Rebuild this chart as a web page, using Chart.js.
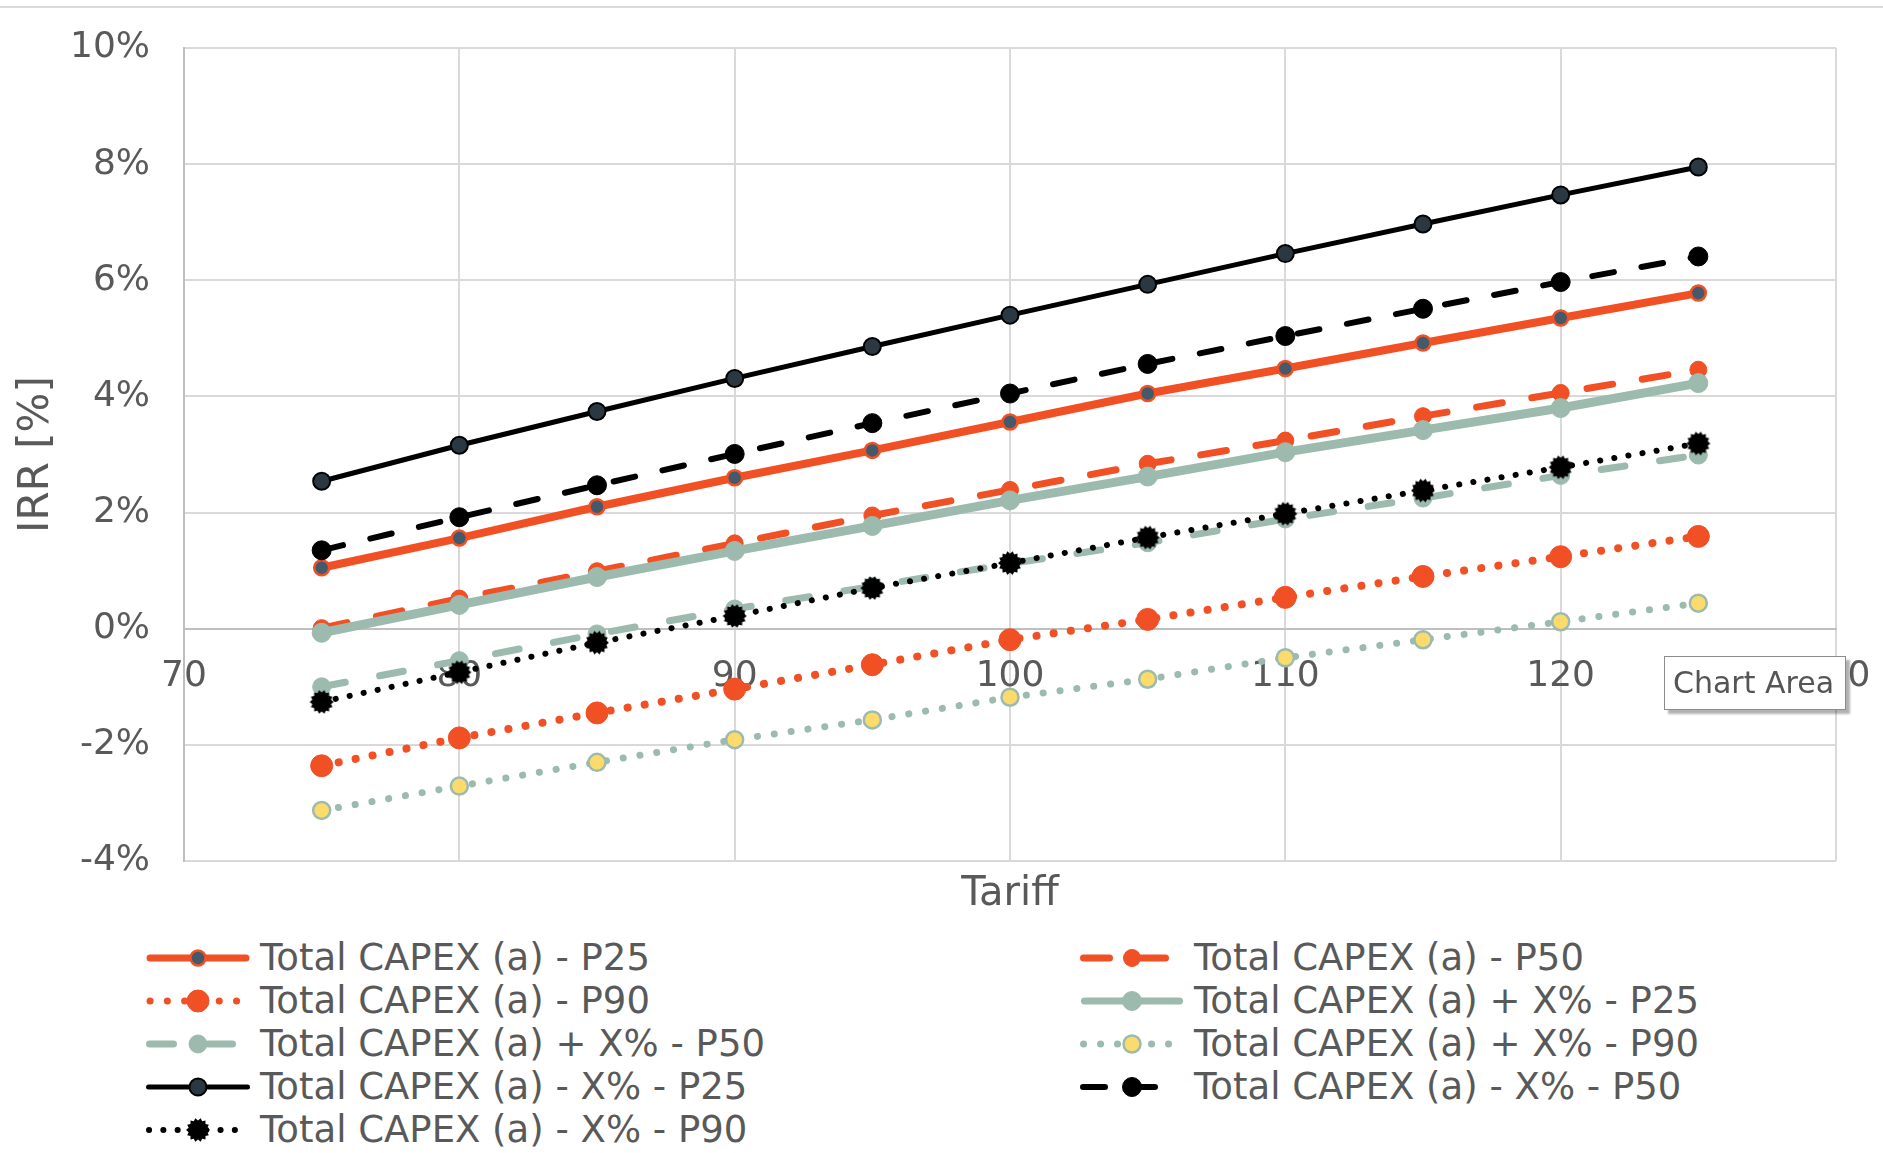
<!DOCTYPE html>
<html>
<head>
<meta charset="utf-8">
<title>IRR vs Tariff</title>
<script src="https://cdn.jsdelivr.net/npm/chart.js@4.4.1/dist/chart.umd.min.js"></script>
<style>
  html, body { margin: 0; padding: 0; background: #ffffff; }
  #wrap { position: relative; width: 1883px; height: 1153px; overflow: hidden;
          font-family: "DejaVu Sans", sans-serif; color: #595959; background: #ffffff; }
  #topline { position: absolute; left: 0; top: 6px; width: 1883px; height: 2px; background: #d9d9d9; }
  #cv { position: absolute; left: 0; top: 0; }
  .item { position: absolute; height: 42px; display: flex; align-items: center;
          font-size: 37px; line-height: 42px; white-space: nowrap; color: #595959; }
  .item canvas { display: block; margin-right: 10px; }
  #tip { position: absolute; left: 1664px; top: 656px; width: 182px; height: 54px; box-sizing: border-box;
         border: 1px solid #8c8c8c; background: #ffffff; box-shadow: 4px 4px 2px rgba(0,0,0,0.30);
         font-size: 30px; line-height: 52px; padding-left: 8px; color: #555555; white-space: nowrap; }
</style>
</head>
<body>
<div id="wrap">
  <div id="topline"></div>
  <canvas id="cv" width="1883" height="919"></canvas>
  <div id="legend"></div>
  <div id="tip">Chart Area</div>
</div>
<script>
// Tariff values on the x axis
const tariffs = [75, 80, 85, 90, 95, 100, 105, 110, 115, 120, 125];

// IRR in percent for each scenario
const capexP25      = [1.05, 1.56, 2.10, 2.60, 3.07, 3.56, 4.05, 4.48, 4.92, 5.35, 5.78];
const capexP50      = [0.01, 0.52, 0.99, 1.47, 1.95, 2.39, 2.84, 3.24, 3.66, 4.06, 4.46];
const capexP90      = [-2.36, -1.88, -1.45, -1.04, -0.62, -0.19, 0.16, 0.54, 0.90, 1.24, 1.59];
const capexPlusP25  = [-0.07, 0.41, 0.89, 1.34, 1.77, 2.21, 2.62, 3.04, 3.42, 3.80, 4.23];
const capexPlusP50  = [-1.00, -0.55, -0.09, 0.34, 0.73, 1.12, 1.48, 1.89, 2.25, 2.64, 2.99];
const capexPlusP90  = [-3.13, -2.71, -2.30, -1.91, -1.57, -1.18, -0.87, -0.50, -0.19, 0.12, 0.44];
const capexMinusP25 = [2.54, 3.16, 3.74, 4.31, 4.86, 5.40, 5.93, 6.46, 6.97, 7.47, 7.95];
const capexMinusP50 = [1.35, 1.92, 2.47, 3.01, 3.54, 4.05, 4.56, 5.04, 5.51, 5.97, 6.41];
const capexMinusP90 = [-1.26, -0.75, -0.24, 0.22, 0.70, 1.13, 1.57, 1.98, 2.38, 2.78, 3.19];

const seriesLabels = [
  'Total CAPEX (a) - P25',
  'Total CAPEX (a) - P50',
  'Total CAPEX (a) - P90',
  'Total CAPEX (a) + X% - P25',
  'Total CAPEX (a) + X% - P50',
  'Total CAPEX (a) + X% - P90',
  'Total CAPEX (a) - X% - P25',
  'Total CAPEX (a) - X% - P50',
  'Total CAPEX (a) - X% - P90'
];
const seriesValues = [capexP25, capexP50, capexP90, capexPlusP25, capexPlusP50,
                      capexPlusP90, capexMinusP25, capexMinusP50, capexMinusP90];

// Axis ranges
const xMin = 70, xMax = 130, xStep = 10;
const yMin = -4, yMax = 10, yStep = 2;

const ORANGE = '#f15025';
const SAGE = '#9dbaae';
const BLACK = '#000000';
const SLATE = '#44596a';
const INK = '#2b3842';
const YELLOW = '#fbdb6c';
const TEXT = '#595959';
const CLEAR = 'rgba(0,0,0,0)';

// Jagged round marker used by the "- X% - P90" series
const spikyMarker = (() => {
  const c = document.createElement('canvas');
  c.width = 26; c.height = 26;
  const g = c.getContext('2d');
  const n = 14;
  g.beginPath();
  for (let i = 0; i < 2 * n; i++) {
    const r = i % 2 ? 9.6 : 12;
    const a = Math.PI * i / n;
    const px = 13 + r * Math.cos(a), py = 13 + r * Math.sin(a);
    if (i === 0) g.moveTo(px, py); else g.lineTo(px, py);
  }
  g.closePath();
  g.fillStyle = BLACK;
  g.fill();
  return c;
})();

// Line and marker styles, one per series
const styles = [
  { color: ORANGE, width: 8, dash: [],          fill: SLATE,  edge: ORANGE, r: 7.5,  bw: 2.5 },
  { color: ORANGE, width: 7, dash: [26, 30],    fill: ORANGE, edge: ORANGE, r: 8.5,  bw: 1 },
  { color: ORANGE, width: 8, dash: [0.1, 17.2], fill: ORANGE, edge: ORANGE, r: 11,   bw: 1 },
  { color: SAGE,   width: 9, dash: [],          fill: SAGE,   edge: SAGE,   r: 9.5,  bw: 1 },
  { color: SAGE,   width: 7, dash: [24, 35],    fill: SAGE,   edge: SAGE,   r: 9,    bw: 1 },
  { color: SAGE,   width: 7, dash: [0.1, 16.9], fill: YELLOW, edge: SAGE,   r: 8.5,  bw: 2.5 },
  { color: BLACK,  width: 5, dash: [],          fill: INK,    edge: BLACK,  r: 8.5,  bw: 2 },
  { color: BLACK,  width: 6, dash: [22, 28],    fill: BLACK,  edge: BLACK,  r: 9.5,  bw: 1 },
  { color: BLACK,  width: 6, dash: [0.1, 14.2], fill: BLACK,  edge: BLACK,  r: 11,   bw: 0, marker: spikyMarker }
];

const datasets = seriesLabels.map((label, i) => {
  const s = styles[i];
  return {
    label,
    data: tariffs.map((t, k) => ({ x: t, y: seriesValues[i][k] })),
    borderColor: s.color,
    borderWidth: s.width,
    borderDash: s.dash,
    borderCapStyle: 'round',
    borderJoinStyle: 'round',
    pointStyle: s.marker || 'circle',
    pointRadius: s.r,
    pointBackgroundColor: s.fill,
    pointBorderColor: s.edge,
    pointBorderWidth: s.bw,
    fill: false,
    tension: 0,
    order: seriesLabels.length - i
  };
});

const chart = new Chart(document.getElementById('cv'), {
  type: 'line',
  data: { datasets },
  options: {
    responsive: false,
    animation: false,
    events: [],
    layout: { padding: { left: 0, right: 47, top: 48, bottom: 0 } },
    plugins: {
      legend: { display: false },
      tooltip: { enabled: false },
      title: {
        display: true,
        text: 'Tariff',
        position: 'bottom',
        fullSize: false,
        color: TEXT,
        font: { family: 'DejaVu Sans', size: 40, weight: 'normal' },
        padding: { top: 10, bottom: 0 }
      }
    },
    scales: {
      x: {
        type: 'linear',
        position: { y: 0 },
        min: xMin, max: xMax,
        ticks: {
          stepSize: xStep,
          color: TEXT,
          padding: 0,
          font: { family: 'DejaVu Sans', size: 36 }
        },
        // invisible tick marks set the gap between the zero line and the labels
        grid: { color: '#d9d9d9', lineWidth: 2, drawTicks: true, tickLength: 26, tickColor: CLEAR },
        border: { color: '#bfbfbf', width: 2 }
      },
      y: {
        type: 'linear',
        position: 'left',
        min: yMin, max: yMax,
        afterFit: (scale) => { scale.width = 184; },
        ticks: {
          stepSize: yStep,
          color: TEXT,
          padding: 0,
          font: { family: 'DejaVu Sans', size: 36 },
          callback: (v) => v + '%'
        },
        grid: {
          color: (ctx) => (ctx.tick && ctx.tick.value === 0) ? '#bfbfbf' : '#d9d9d9',
          lineWidth: 2,
          drawTicks: true,
          tickLength: 34,
          tickColor: CLEAR
        },
        border: { color: '#bfbfbf', width: 2 },
        title: {
          display: true,
          text: 'IRR [%]',
          color: TEXT,
          font: { family: 'DejaVu Sans', size: 42 },
          padding: { top: 12, bottom: 0 }
        }
      }
    }
  }
});

// Legend: a line sample with its marker, then the series name
function drawSwatch(g, ds, w, h) {
  const y = h / 2;
  const inset = ds.borderWidth / 2;
  g.strokeStyle = ds.borderColor;
  g.lineWidth = Math.min(ds.borderWidth, 7);
  g.lineCap = ds.borderCapStyle;
  g.setLineDash(ds.borderDash);
  g.beginPath();
  g.moveTo(inset, y);
  g.lineTo(w - inset, y);
  g.stroke();
  g.setLineDash([]);
  const cx = w / 2;
  if (ds.pointStyle instanceof HTMLCanvasElement) {
    const m = ds.pointStyle;
    g.drawImage(m, cx - m.width / 2, y - m.height / 2);
  } else {
    g.beginPath();
    g.arc(cx, y, ds.pointRadius, 0, Math.PI * 2);
    g.fillStyle = ds.pointBackgroundColor;
    g.fill();
    if (ds.pointBorderWidth > 0) {
      g.lineWidth = ds.pointBorderWidth;
      g.strokeStyle = ds.pointBorderColor;
      g.stroke();
    }
  }
}

const legendBox = document.getElementById('legend');
chart.data.datasets.forEach((ds, i) => {
  const item = document.createElement('div');
  item.className = 'item';
  item.style.left = (i % 2 ? 1080 : 146) + 'px';
  item.style.top = (958 - 21 + Math.floor(i / 2) * 43) + 'px';
  const sw = document.createElement('canvas');
  sw.width = 104; sw.height = 42;
  drawSwatch(sw.getContext('2d'), ds, sw.width, sw.height);
  const name = document.createElement('span');
  name.textContent = ds.label;
  item.appendChild(sw);
  item.appendChild(name);
  legendBox.appendChild(item);
});
</script>
</body>
</html>
